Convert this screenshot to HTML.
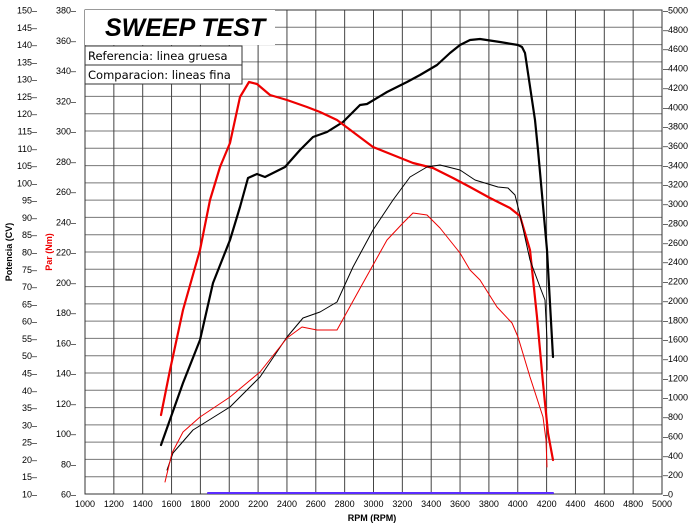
<!DOCTYPE html>
<html><head><meta charset="utf-8"><style>
html,body{margin:0;padding:0;background:#fff;}
svg{display:block;font-family:"Liberation Sans",Arial,sans-serif;}
</style></head><body>
<svg id="s" width="691" height="528" viewBox="0 0 691 528" xmlns="http://www.w3.org/2000/svg">
<g id="grid"></g>
<rect x="85" y="10" width="190" height="35" fill="#fff"/>
<text x="105" y="36" font-size="25" font-weight="bold" font-style="italic">SWEEP TEST</text>
<rect x="85" y="46" width="157" height="38" fill="#fff" stroke="#333" stroke-width="1"/>
<line x1="85" y1="65" x2="242" y2="65" stroke="#333"/>
<text x="88" y="60" font-size="11.5" font-family="DejaVu Sans, sans-serif">Referencia: linea gruesa</text>
<text x="88" y="79" font-size="11.5" font-family="DejaVu Sans, sans-serif">Comparacion: lineas fina</text>
<g fill="none" stroke-linejoin="round" stroke-linecap="round">
<polyline stroke="#000" stroke-width="2.2" points="161,445 183,383 200,340 213,283 230,240 240,207 248,178 257,174 265,177 273,173 285,167 300,150 313,137 327,132 343,122 360,105 367,104 387,92 407,82 420,75 437,65 450,53 460,45 470,40 480,39 500,42 518,45 522,47 525,53 535,120 538,150 547,250 553,357"/>
<polyline stroke="#e00" stroke-width="2.2" points="161,415 170,370 183,310 200,250 210,200 220,167 230,143 240,97 249,82 257,84 270,95 287,100 307,107 320,112 337,120 353,132 373,147 393,155 413,163 433,168 453,178 470,187 490,198 510,208 520,216 530,250 537,317 543,383 548,433 553,460"/>
<polyline stroke="#000" stroke-width="1" points="167,470 173,453 193,430 230,407 260,377 287,337 303,318 320,312 337,302 353,267 373,230 393,200 410,177 427,167 440,165 460,170 475,180 498,187 508,188 515,195 520,215 530,260 540,287 545,300 547,340 547,370"/>
<polyline stroke="#e00" stroke-width="1" points="165,482 172,453 183,432 200,417 230,397 260,372 287,338 302,327 317,330 337,330 363,283 387,240 403,223 413,213 427,215 440,228 460,253 470,270 480,280 497,307 512,323 518,337 530,377 543,417 546,440 547,467"/>
<polyline stroke="#5a2cff" stroke-width="2" points="208,493 553,493"/>
</g>
<text transform="translate(12,252) rotate(-90)" text-anchor="middle" font-size="9" font-weight="bold">Potencia (CV)</text>
<text transform="translate(52,252) rotate(-90)" text-anchor="middle" font-size="9" font-weight="bold" fill="#e00">Par (Nm)</text>
<text x="372" y="521" text-anchor="middle" font-size="9" font-weight="bold">RPM (RPM)</text>
</svg>
<script>
(function(){
var g=document.getElementById('grid'),s=document.getElementById('s'),NS='http://www.w3.org/2000/svg';
function el(t,a,p,txt){var e=document.createElementNS(NS,t);for(var k in a)e.setAttribute(k,a[k]);if(txt!==undefined)e.textContent=txt;(p||g).appendChild(e);return e;}
var L=85,R=662,T=10,B=494;
for(var i=0;i<=28;i++){var y=B-i*(B-T)/28;el('line',{x1:L,x2:R,y1:y,y2:y,stroke:'#777','stroke-width':1});
el('text',{x:37,y:y+3.5,'font-size':9,'text-anchor':'end'},s,(10+i*5)+'\u2013');}
for(var i=0;i<=20;i++){var x=L+i*(R-L)/20;el('line',{x1:x,x2:x,y1:T,y2:B,stroke:'#444','stroke-width':1});
el('text',{x:x,y:507,'font-size':9,'text-anchor':'middle'},s,String(1000+i*200));}
for(var i=0;i<=16;i++){var y=B-i*(B-T)/16;el('text',{x:76,y:y+3.5,'font-size':9,'text-anchor':'end'},s,(60+i*20)+'\u2013');}
for(var i=0;i<=25;i++){var y=B-i*(B-T)/25;el('text',{x:663,y:y+3.5,'font-size':9},s,'\u2013'+(i*200));}
el('rect',{x:L,y:T,width:R-L,height:B-T,fill:'none',stroke:'#333','stroke-width':1});
})();
</script>
</body></html>
